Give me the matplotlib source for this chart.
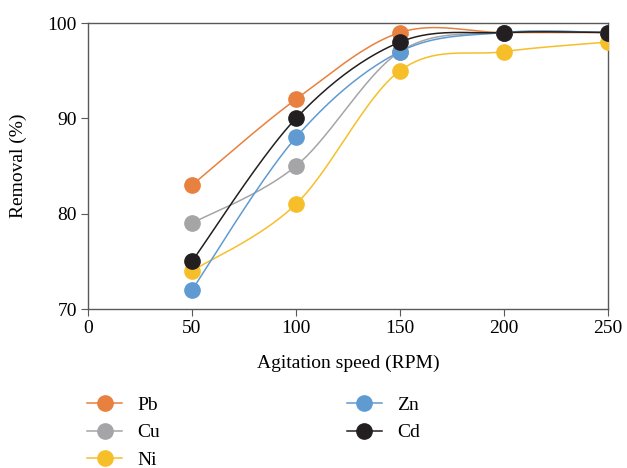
import numpy as np
import matplotlib
matplotlib.use("Agg")
import matplotlib.pyplot as plt

plt.rcParams['font.family'] = ['Liberation Serif', 'DejaVu Serif']

# 数据
speed = [50, 100, 150, 200, 250]
pb = [83, 92, 99, 99, 99]
cu = [79, 85, 97, 99, 99]
ni = [74, 81, 95, 97, 98]
zn = [72, 88, 97, 99, 99]
cd = [75, 90, 98, 99, 99]

series = [("Pb", pb, "#E8803F"),
          ("Cu", cu, "#A5A5A7"),
          ("Ni", ni, "#F6BF2A"),
          ("Zn", zn, "#5F9BD1"),
          ("Cd", cd, "#231F20")]


def smooth(x, y, n=40):
    # Excel 风格平滑线 (Catmull-Rom 贝塞尔)
    p = np.column_stack([x, y]).astype(float)
    ext = np.vstack([p[0], p, p[-1]])
    out = []
    t = np.linspace(0, 1, n)[:, None]
    for i in range(len(p) - 1):
        p0, p3 = ext[i + 1], ext[i + 2]
        c1 = p0 + (ext[i + 2] - ext[i]) / 6
        c2 = p3 - (ext[i + 3] - ext[i + 1]) / 6
        seg = ((1 - t) ** 3) * p0 + 3 * ((1 - t) ** 2) * t * c1 + 3 * (1 - t) * t ** 2 * c2 + t ** 3 * p3
        out.append(seg)
    out = np.vstack(out)
    return out[:, 0], out[:, 1]


fig = plt.figure(figsize=(6.27, 4.68), dpi=100)
ax = fig.add_axes([88 / 627, 1 - 309 / 468, 520 / 627, 286 / 468])

for name, vals, col in series:
    sx, sy = smooth(speed, vals)
    ax.plot(sx, sy, color=col, lw=1.1, zorder=2)
    ax.plot(speed, vals, 'o', color=col, ms=11, zorder=3)
    ax.plot([], [], '-o', color=col, lw=1.1, ms=11, label=name)

ax.set_xlim(0, 250)
ax.set_ylim(70, 100)
ax.set_xticks([0, 50, 100, 150, 200, 250])
ax.set_yticks([70, 80, 90, 100])
for s in ax.spines.values():
    s.set_color("#595959")
    s.set_linewidth(1.0)
ax.tick_params(direction='out', length=5, color="#595959", labelsize=14, pad=3)
ax.set_xlabel("Agitation speed (RPM)", fontsize=14, labelpad=13)
ax.set_ylabel("Removal (%)", fontsize=14, labelpad=15)

ax.legend(loc='upper left', bbox_to_anchor=(87 / 627, 1 - 396 / 468),
          bbox_transform=fig.transFigure, ncol=2, frameon=False, fontsize=14,
          handlelength=1.8, handletextpad=0.8, columnspacing=9.6,
          labelspacing=0.52, borderpad=0, borderaxespad=0)

fig.savefig("out.png", dpi=100)
